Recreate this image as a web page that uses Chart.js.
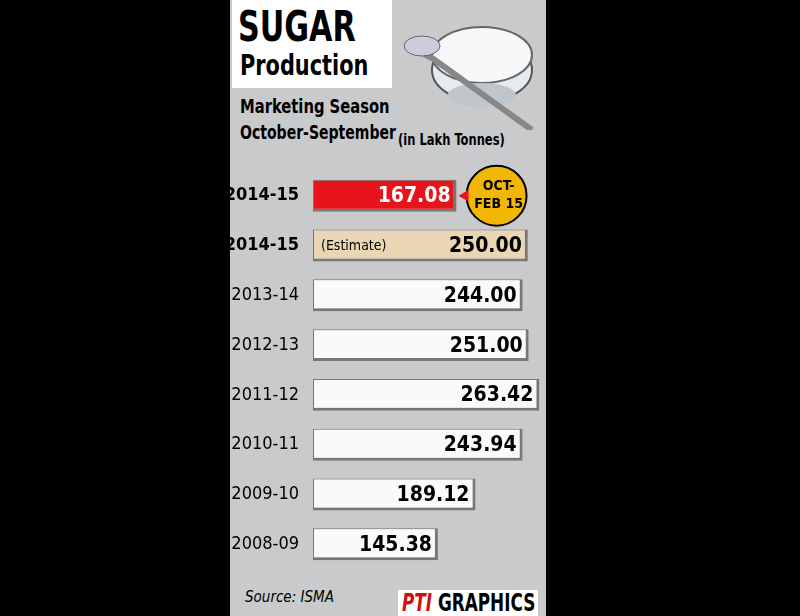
<!DOCTYPE html>
<html><head><meta charset="utf-8">
<script src="https://cdn.jsdelivr.net/npm/chart.js@4"></script>
<style>
body{margin:0;background:#000;width:800px;height:616px;overflow:hidden;font-family:"DejaVu Sans Condensed","Liberation Sans",sans-serif;}
#panel{position:absolute;left:230px;top:0;width:316px;height:616px;background:#c9cacc;}
#hdr{position:absolute;left:232px;top:0;width:160px;height:88px;background:#fff;}
.t{position:absolute;font-weight:bold;color:#000;white-space:nowrap;}
#c{position:absolute;left:230px;top:154px;}
#bowl{position:absolute;left:402px;top:10px;width:135px;height:120px;}
</style></head><body>
<div id="panel"></div>
<div id="hdr"></div>
<div class="t" style="left:238px;top:2px;font-size:42px;transform:scaleX(0.8);transform-origin:left;">SUGAR</div>
<div class="t" style="left:240px;top:48px;font-size:29px;transform:scaleX(0.8);transform-origin:left;">Production</div>
<div class="t" style="left:240px;top:94px;font-size:20px;transform:scaleX(0.82);transform-origin:left;">Marketing Season</div>
<div class="t" style="left:240px;top:120px;font-size:20px;transform:scaleX(0.78);transform-origin:left;">October-September</div>
<div class="t" style="left:398px;top:130px;font-size:16px;transform:scaleX(0.8);transform-origin:left;">(in Lakh Tonnes)</div>
<svg id="bowl" viewBox="0 0 135 120">
<ellipse cx="80" cy="60" rx="50" ry="32" fill="#e6ebef" stroke="#555" stroke-width="2"/>
<ellipse cx="80" cy="45" rx="50" ry="28" fill="#f5f7f9" stroke="#666" stroke-width="2"/>
<ellipse cx="80" cy="85" rx="34" ry="12" fill="#bfc6cc"/>
<path d="M22 30 Q10 40 30 48 L130 120" stroke="#888" stroke-width="6" fill="none"/>
<ellipse cx="20" cy="36" rx="18" ry="10" fill="#ccd" stroke="#666"/>
</svg>
<canvas id="c" width="320" height="432"></canvas>
<div class="t" style="left:245px;top:588px;font-size:15px;font-style:italic;font-weight:normal;">Source: ISMA</div>
<div style="position:absolute;left:398px;top:590px;width:140px;height:26px;background:#fff;"></div>
<div class="t" style="left:402px;top:589px;font-size:24px;transform:scaleX(0.78);transform-origin:left;"><span style="color:#d01010;font-style:italic;">PTI</span> GRAPHICS</div>
<script>
const categories=["2014-15","2014-15","2013-14","2012-13","2011-12","2010-11","2009-10","2008-09"];
const values=[167.08,250.00,244.00,251.00,263.42,243.94,189.12,145.38];
const valueLabels=["167.08","250.00","244.00","251.00","263.42","243.94","189.12","145.38"];
const colors=["#e8141c","#ead6b4","#fafafa","#fafafa","#fafafa","#fafafa","#fafafa","#fafafa"];
const F='"DejaVu Sans Condensed", sans-serif';
const labelsPlugin={id:'lbl',afterDatasetsDraw(ch){
 const ctx=ch.ctx;const meta=ch.getDatasetMeta(0);
 meta.data.forEach((b,i)=>{
  ctx.save();ctx.font='bold 21px '+F;
  ctx.textAlign='right';ctx.textBaseline='middle';
  ctx.fillStyle=i==0?'#fff':'#000';
  ctx.fillText(valueLabels[i],b.x-6,b.y+1);
  if(i==1){ctx.font='14px '+F;ctx.textAlign='left';ctx.fillText('(Estimate)',b.base+8,b.y+1);}
  if(i==0){
   ctx.fillStyle='#f2b705';ctx.strokeStyle='#000';ctx.lineWidth=2;
   ctx.beginPath();ctx.arc(b.x+40,b.y,30,0,Math.PI*2);ctx.fill();ctx.stroke();
   ctx.beginPath();ctx.moveTo(b.x+2,b.y);ctx.lineTo(b.x+12,b.y-6);ctx.lineTo(b.x+12,b.y+6);ctx.fillStyle='#e8141c';ctx.fill();
   ctx.fillStyle='#000';ctx.textAlign='center';ctx.font='bold 14px '+F;
   ctx.fillText('OCT-',b.x+42,b.y-9);ctx.fillText('FEB 15',b.x+42,b.y+9);
  }
  ctx.restore();
 });
}};
new Chart(document.getElementById('c'),{type:'bar',
 data:{labels:categories,datasets:[{data:values,backgroundColor:colors,borderColor:"#777",borderWidth:{top:1,left:1,right:3,bottom:3},borderSkipped:false,barPercentage:0.64,categoryPercentage:1}]},
 options:{indexAxis:'y',responsive:false,animation:false,
  layout:{padding:{right:5,top:0,bottom:0,left:0}},
  plugins:{legend:{display:false},tooltip:{enabled:false}},
  scales:{x:{display:false,min:0,max:270},
   y:{grid:{display:false},border:{display:false},afterFit(s){s.width=83;},
    ticks:{color:'#000',padding:6,font:(c)=>({family:F,size:18,weight:c.index<2?'bold':'normal'})}}}},
 plugins:[labelsPlugin]});
</script></body></html>
